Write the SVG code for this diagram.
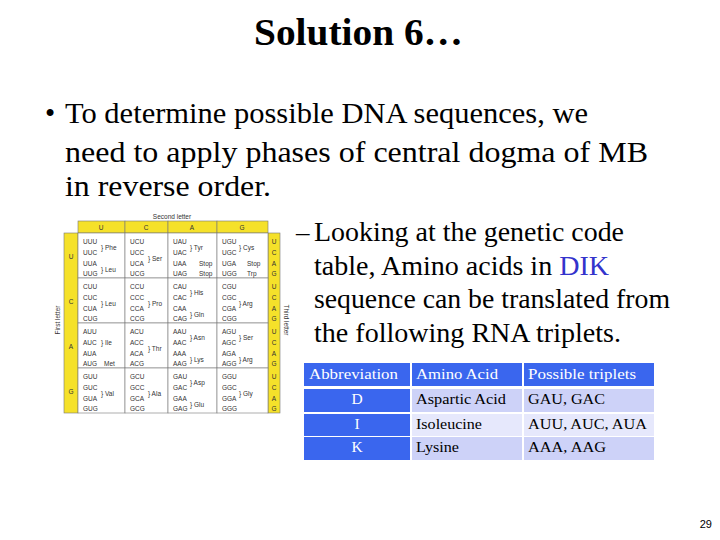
<svg xmlns="http://www.w3.org/2000/svg" width="720" height="540" viewBox="0 0 720 540">
<style>
.t{font-family:"Liberation Serif",serif;fill:#000}
.g{font-family:"Liberation Sans",sans-serif;font-size:6.5px;fill:#333}
.y{fill:#f5e12a;stroke:#777;stroke-width:0.6}
.c{fill:#fff;stroke:#777;stroke-width:0.6}
.h{font-family:"Liberation Serif",serif;font-size:15.5px;fill:#fff}
.d{font-family:"Liberation Serif",serif;font-size:15.5px;fill:#000}
</style>
<rect width="720" height="540" fill="#fff"/>
<g id="title"><text class="t" x="254" y="45" font-size="38" font-weight="bold" textLength="209" lengthAdjust="spacingAndGlyphs">Solution 6…</text></g>
<g id="bullet" class="t" font-size="29">
<text x="45" y="123">•</text>
<text x="65" y="123" textLength="523" lengthAdjust="spacingAndGlyphs">To determine possible DNA sequences, we</text>
<text x="65" y="162" textLength="583" lengthAdjust="spacingAndGlyphs">need to apply phases of central dogma of MB</text>
<text x="65" y="196" textLength="206" lengthAdjust="spacingAndGlyphs">in reverse order.</text>
</g>
<g id="subbullet" class="t" font-size="27">
<text x="296" y="241">–</text>
<text x="314" y="241" textLength="310" lengthAdjust="spacingAndGlyphs">Looking at the genetic code</text>
<text x="314" y="275" textLength="295" lengthAdjust="spacingAndGlyphs">table, Amino acids in <tspan fill="#3333cc">DIK</tspan></text>
<text x="314" y="308" textLength="356" lengthAdjust="spacingAndGlyphs">sequence can be translated from</text>
<text x="314" y="342" textLength="307" lengthAdjust="spacingAndGlyphs">the following RNA triplets.</text>
</g>
<g id="codetable">
<text class="g" x="172" y="219" text-anchor="middle">Second letter</text>
<text class="g" transform="translate(60,320) rotate(-90)" text-anchor="middle">First letter</text>
<text class="g" transform="translate(284,320) rotate(90)" text-anchor="middle">Third letter</text>
<rect class="y" x="78" y="221" width="47" height="12"/><rect class="y" x="125" y="221" width="43" height="12"/><rect class="y" x="168" y="221" width="49" height="12"/><rect class="y" x="217" y="221" width="51" height="12"/>
<g class="g" font-size="7" text-anchor="middle"><text x="101" y="230">U</text><text x="146" y="230">C</text><text x="192" y="230">A</text><text x="242" y="230">G</text></g>
<rect class="y" x="64" y="233" width="14" height="180"/><rect class="y" x="268" y="233" width="12" height="180"/>
<g class="g" font-size="7" text-anchor="middle"><text x="71" y="259">U</text><text x="71" y="304">C</text><text x="71" y="349">A</text><text x="71" y="394">G</text></g>
<g class="g" text-anchor="middle">
<text x="274" y="244">U</text><text x="274" y="255">C</text><text x="274" y="266">A</text><text x="274" y="276">G</text>
<text x="274" y="289">U</text><text x="274" y="300">C</text><text x="274" y="311">A</text><text x="274" y="321">G</text>
<text x="274" y="334">U</text><text x="274" y="345">C</text><text x="274" y="356">A</text><text x="274" y="366">G</text>
<text x="274" y="379">U</text><text x="274" y="390">C</text><text x="274" y="401">A</text><text x="274" y="411">G</text>
</g>
<g>
<rect class="c" x="78" y="233" width="47" height="45"/><rect class="c" x="125" y="233" width="43" height="45"/><rect class="c" x="168" y="233" width="49" height="45"/><rect class="c" x="217" y="233" width="51" height="45"/>
<rect class="c" x="78" y="278" width="47" height="45"/><rect class="c" x="125" y="278" width="43" height="45"/><rect class="c" x="168" y="278" width="49" height="45"/><rect class="c" x="217" y="278" width="51" height="45"/>
<rect class="c" x="78" y="323" width="47" height="45"/><rect class="c" x="125" y="323" width="43" height="45"/><rect class="c" x="168" y="323" width="49" height="45"/><rect class="c" x="217" y="323" width="51" height="45"/>
<rect class="c" x="78" y="368" width="47" height="45"/><rect class="c" x="125" y="368" width="43" height="45"/><rect class="c" x="168" y="368" width="49" height="45"/><rect class="c" x="217" y="368" width="51" height="45"/>
</g>
<g class="g">
<text x="83" y="244">UUU</text><text x="83" y="255">UUC</text><text x="83" y="266">UUA</text><text x="83" y="276">UUG</text>
<text x="101" y="250">} Phe</text><text x="101" y="272">} Leu</text>
<text x="130" y="244">UCU</text><text x="130" y="255">UCC</text><text x="130" y="266">UCA</text><text x="130" y="276">UCG</text><text x="148" y="261">} Ser</text>
<text x="173" y="244">UAU</text><text x="173" y="255">UAC</text><text x="173" y="266">UAA</text><text x="173" y="276">UAG</text>
<text x="190" y="250">} Tyr</text><text x="199" y="266">Stop</text><text x="199" y="276">Stop</text>
<text x="222" y="244">UGU</text><text x="222" y="255">UGC</text><text x="222" y="266">UGA</text><text x="222" y="276">UGG</text>
<text x="239" y="250">} Cys</text><text x="247" y="266">Stop</text><text x="247" y="276">Trp</text>

<text x="83" y="289">CUU</text><text x="83" y="300">CUC</text><text x="83" y="311">CUA</text><text x="83" y="321">CUG</text><text x="101" y="306">} Leu</text>
<text x="130" y="289">CCU</text><text x="130" y="300">CCC</text><text x="130" y="311">CCA</text><text x="130" y="321">CCG</text><text x="148" y="306">} Pro</text>
<text x="173" y="289">CAU</text><text x="173" y="300">CAC</text><text x="173" y="311">CAA</text><text x="173" y="321">CAG</text><text x="190" y="295">} His</text><text x="190" y="317">} Gln</text>
<text x="222" y="289">CGU</text><text x="222" y="300">CGC</text><text x="222" y="311">CGA</text><text x="222" y="321">CGG</text><text x="239" y="306">} Arg</text>

<text x="83" y="334">AUU</text><text x="83" y="345">AUC</text><text x="83" y="356">AUA</text><text x="83" y="366">AUG</text><text x="101" y="345">} Ile</text><text x="104" y="366">Met</text>
<text x="130" y="334">ACU</text><text x="130" y="345">ACC</text><text x="130" y="356">ACA</text><text x="130" y="366">ACG</text><text x="148" y="351">} Thr</text>
<text x="173" y="334">AAU</text><text x="173" y="345">AAC</text><text x="173" y="356">AAA</text><text x="173" y="366">AAG</text><text x="190" y="340">} Asn</text><text x="190" y="362">} Lys</text>
<text x="222" y="334">AGU</text><text x="222" y="345">AGC</text><text x="222" y="356">AGA</text><text x="222" y="366">AGG</text><text x="239" y="340">} Ser</text><text x="239" y="362">} Arg</text>

<text x="83" y="379">GUU</text><text x="83" y="390">GUC</text><text x="83" y="401">GUA</text><text x="83" y="411">GUG</text><text x="101" y="396">} Val</text>
<text x="130" y="379">GCU</text><text x="130" y="390">GCC</text><text x="130" y="401">GCA</text><text x="130" y="411">GCG</text><text x="148" y="396">} Ala</text>
<text x="173" y="379">GAU</text><text x="173" y="390">GAC</text><text x="173" y="401">GAA</text><text x="173" y="411">GAG</text><text x="190" y="385">} Asp</text><text x="190" y="407">} Glu</text>
<text x="222" y="379">GGU</text><text x="222" y="390">GGC</text><text x="222" y="401">GGA</text><text x="222" y="411">GGG</text><text x="239" y="396">} Gly</text>
</g>
</g>
<g id="triplets">
<rect x="304" y="363" width="106" height="23" fill="#3a66ee"/><rect x="412" y="363" width="110" height="23" fill="#3a66ee"/><rect x="524" y="363" width="130" height="23" fill="#3a66ee"/>
<text class="h" x="309" y="379" textLength="89" lengthAdjust="spacingAndGlyphs">Abbreviation</text><text class="h" x="416" y="379" textLength="82" lengthAdjust="spacingAndGlyphs">Amino Acid</text><text class="h" x="528" y="379" textLength="108" lengthAdjust="spacingAndGlyphs">Possible triplets</text>
<rect x="304" y="389" width="106" height="23" fill="#3a66ee"/><rect x="412" y="389" width="110" height="23" fill="#cdd2f8"/><rect x="524" y="389" width="130" height="23" fill="#cdd2f8"/>
<rect x="304" y="414" width="106" height="22" fill="#3a66ee"/><rect x="412" y="414" width="110" height="22" fill="#e6e8fc"/><rect x="524" y="414" width="130" height="22" fill="#e6e8fc"/>
<rect x="304" y="437" width="106" height="23" fill="#3a66ee"/><rect x="412" y="437" width="110" height="23" fill="#cdd2f8"/><rect x="524" y="437" width="130" height="23" fill="#cdd2f8"/>
<g class="h" text-anchor="middle"><text x="357" y="404">D</text><text x="357" y="429">I</text><text x="357" y="452">K</text></g>
<text class="d" x="416" y="404" textLength="90" lengthAdjust="spacingAndGlyphs">Aspartic Acid</text><text class="d" x="528" y="404" textLength="77" lengthAdjust="spacingAndGlyphs">GAU, GAC</text>
<text class="d" x="416" y="429" textLength="66" lengthAdjust="spacingAndGlyphs">Isoleucine</text><text class="d" x="528" y="429" textLength="119" lengthAdjust="spacingAndGlyphs">AUU, AUC, AUA</text>
<text class="d" x="416" y="452" textLength="43" lengthAdjust="spacingAndGlyphs">Lysine</text><text class="d" x="528" y="452" textLength="78" lengthAdjust="spacingAndGlyphs">AAA, AAG</text>
</g>
<g id="page"><text x="712" y="528" font-family="Liberation Sans,sans-serif" font-size="11" text-anchor="end">29</text></g>
</svg>
